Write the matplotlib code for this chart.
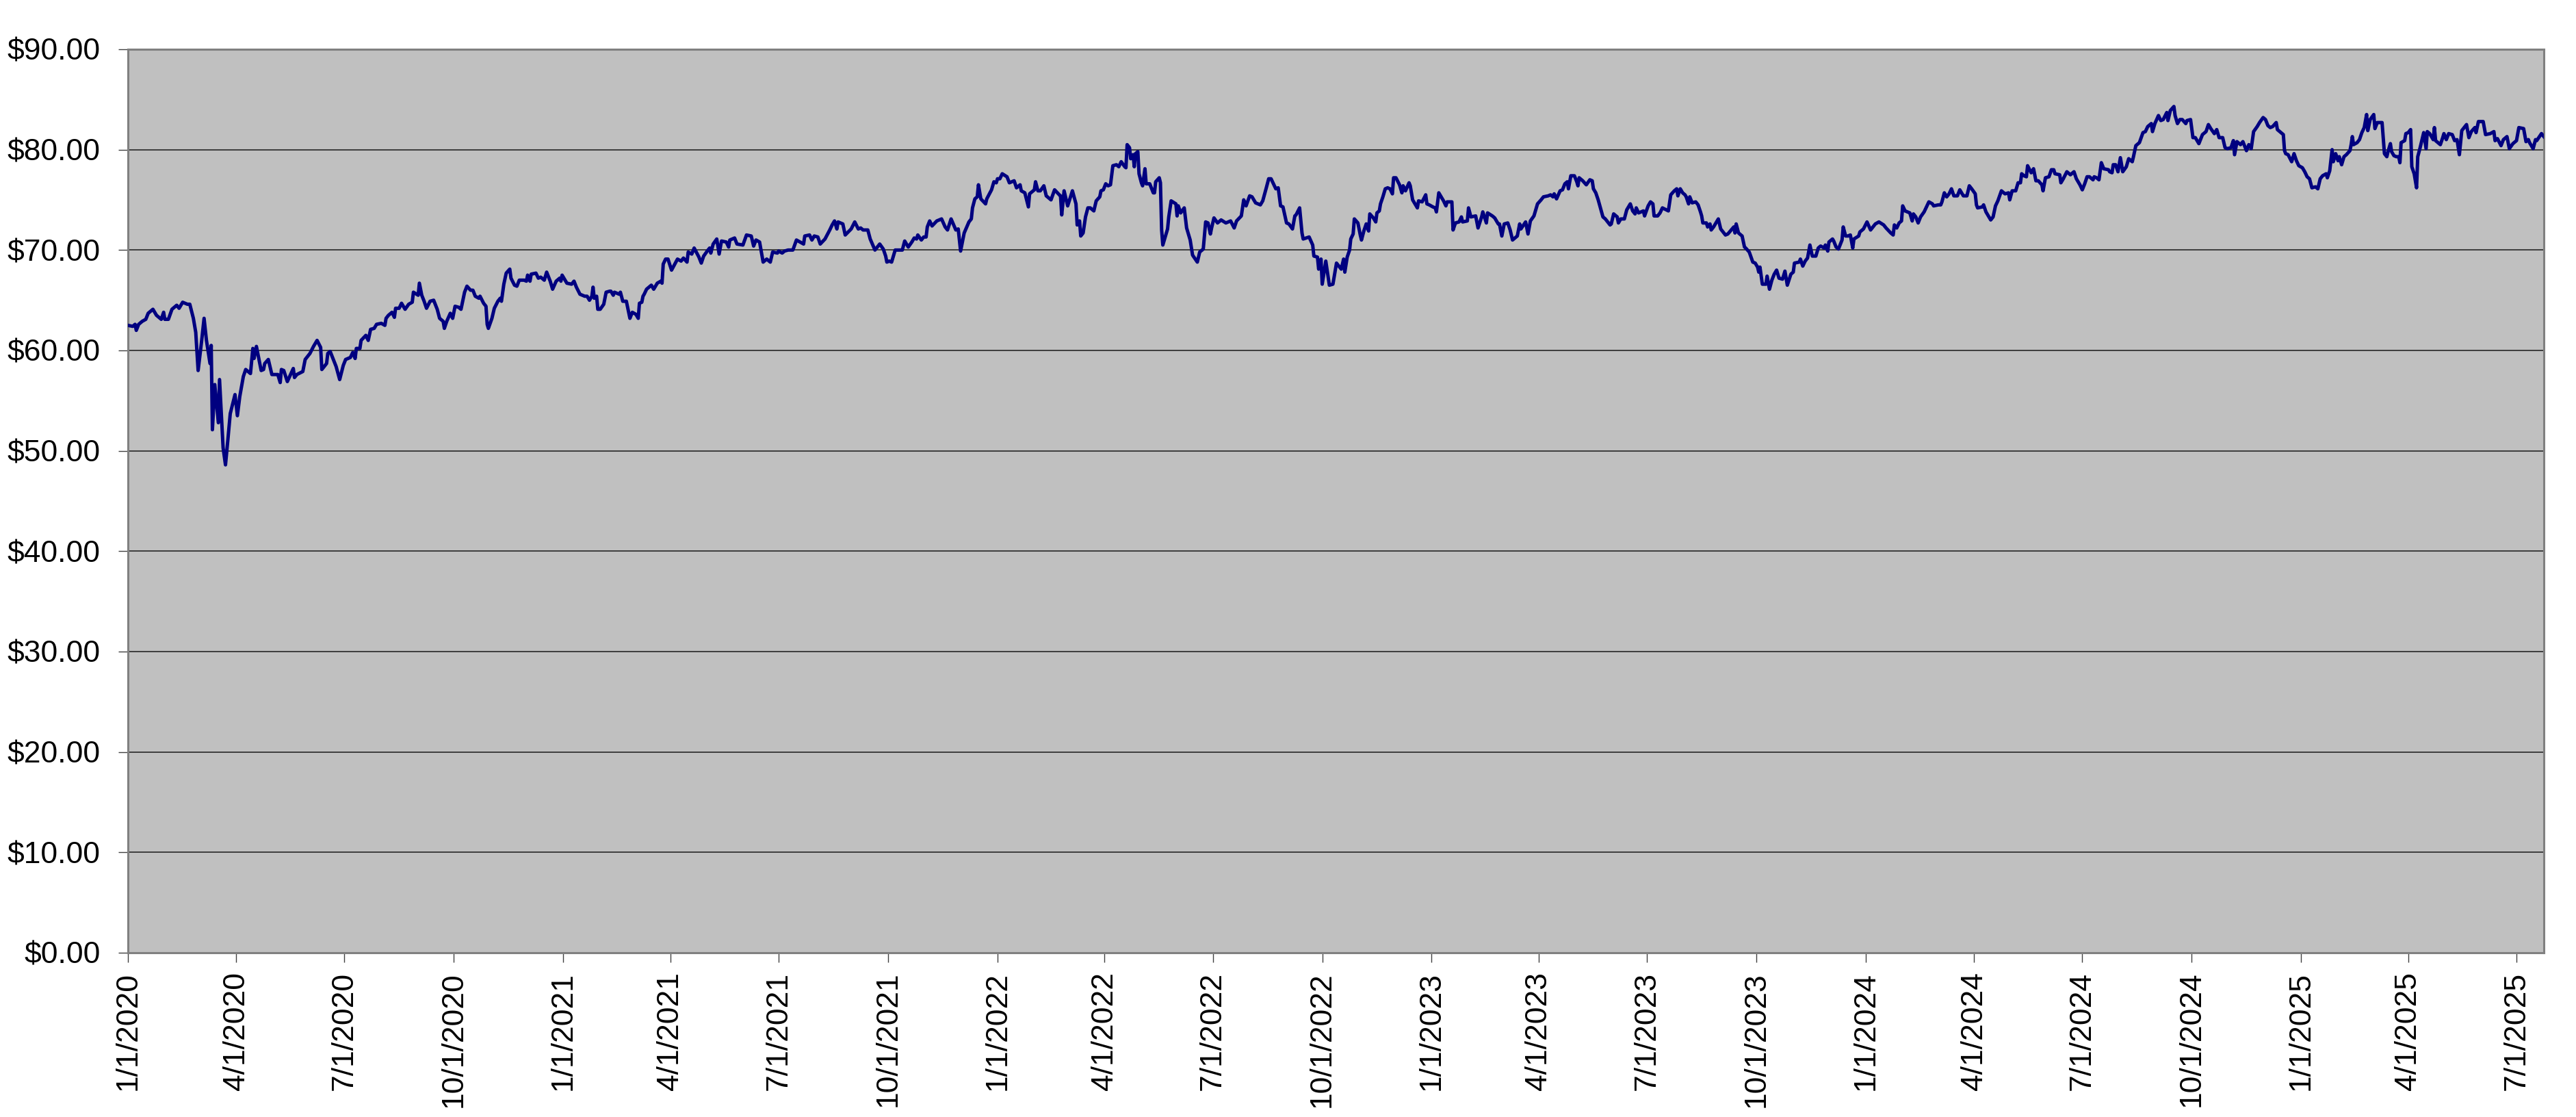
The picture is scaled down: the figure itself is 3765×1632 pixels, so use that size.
import matplotlib
matplotlib.use("Agg")
import matplotlib.pyplot as plt
import pandas as pd

# closing prices, (month-day, price) per year
y2020 = [
    ("01-01", 62.5), ("01-05", 62.4), ("01-07", 62.6), ("01-08", 62.0), ("01-10", 62.6), ("01-13", 62.9),
    ("01-16", 63.1), ("01-18", 63.7), ("01-22", 64.1), ("01-25", 63.5), ("01-29", 63.1), ("01-31", 63.8),
    ("02-01", 63.1), ("02-04", 63.1), ("02-07", 64.1), ("02-11", 64.5), ("02-13", 64.2), ("02-16", 64.8),
    ("02-20", 64.6), ("02-22", 64.6), ("02-25", 63.2), ("02-27", 61.8), ("02-29", 58.0), ("03-03", 61.0),
    ("03-05", 63.2), ("03-07", 61.0), ("03-10", 58.7), ("03-11", 60.5), ("03-12", 52.1), ("03-14", 56.6),
    ("03-17", 52.8), ("03-18", 57.1), ("03-21", 50.3), ("03-23", 48.6), ("03-25", 51.1), ("03-27", 53.7),
    ("03-31", 55.6), ("04-02", 53.5), ("04-04", 55.4), ("04-07", 57.4), ("04-09", 58.1), ("04-13", 57.7),
    ("04-15", 60.2), ("04-16", 59.2), ("04-18", 60.4), ("04-22", 58.0), ("04-24", 58.1), ("04-25", 58.7),
    ("04-28", 59.1), ("05-01", 57.6), ("05-06", 57.6), ("05-08", 56.8), ("05-09", 58.1), ("05-11", 58.0),
    ("05-14", 56.9), ("05-19", 58.2), ("05-20", 57.3), ("05-22", 57.6), ("05-27", 57.9), ("05-29", 59.1),
    ("06-02", 59.7), ("06-05", 60.4), ("06-08", 61.0), ("06-11", 60.3), ("06-12", 58.1), ("06-16", 58.7),
    ("06-17", 59.7), ("06-19", 59.9), ("06-22", 59.0), ("06-24", 58.4), ("06-27", 57.1), ("06-30", 58.5),
    ("07-02", 59.1), ("07-06", 59.3), ("07-08", 59.8), ("07-10", 59.2), ("07-11", 60.2), ("07-14", 60.2),
    ("07-15", 61.0), ("07-19", 61.5), ("07-21", 61.0), ("07-23", 62.1), ("07-26", 62.2), ("07-28", 62.6),
    ("08-01", 62.7), ("08-04", 62.5), ("08-05", 63.2), ("08-07", 63.5), ("08-10", 63.8), ("08-12", 63.3),
    ("08-13", 64.2), ("08-16", 64.2), ("08-18", 64.7), ("08-21", 64.1), ("08-24", 64.6), ("08-27", 64.8),
    ("08-28", 65.8), ("09-01", 65.5), ("09-02", 66.7), ("09-04", 65.5), ("09-06", 64.9), ("09-08", 64.2),
    ("09-11", 64.9), ("09-14", 65.0), ("09-17", 64.1), ("09-19", 63.2), ("09-22", 62.9), ("09-23", 62.2),
    ("09-25", 62.9), ("09-28", 63.7), ("09-30", 63.2), ("10-02", 64.4), ("10-05", 64.3), ("10-07", 64.1),
    ("10-10", 65.8), ("10-12", 66.4), ("10-15", 66.0), ("10-17", 66.0), ("10-19", 65.4), ("10-22", 65.2),
    ("10-23", 65.4), ("10-26", 64.7), ("10-28", 64.4), ("10-29", 62.6), ("10-30", 62.2), ("11-02", 63.2),
    ("11-04", 64.2), ("11-07", 64.9), ("11-09", 65.2), ("11-10", 64.9), ("11-12", 66.6), ("11-14", 67.7),
    ("11-17", 68.1), ("11-18", 67.2), ("11-21", 66.5), ("11-23", 66.4), ("11-25", 67.0), ("11-29", 67.0),
    ("12-01", 66.9), ("12-02", 67.5), ("12-04", 66.9), ("12-05", 67.6), ("12-09", 67.7), ("12-11", 67.2),
    ("12-13", 67.3), ("12-16", 67.0), ("12-18", 67.8), ("12-21", 66.9), ("12-23", 66.1), ("12-26", 66.9),
    ("12-29", 67.2), ("12-30", 66.9), ("12-31", 67.5),
]
y2021 = [
    ("01-04", 66.7), ("01-08", 66.6), ("01-10", 66.9), ("01-12", 66.3), ("01-15", 65.6), ("01-19", 65.4),
    ("01-21", 65.4), ("01-23", 65.0), ("01-25", 65.4), ("01-26", 66.3), ("01-27", 65.2), ("01-29", 65.4),
    ("01-30", 64.1), ("02-01", 64.1), ("02-04", 64.6), ("02-06", 65.8), ("02-09", 65.9), ("02-10", 65.9),
    ("02-12", 65.5), ("02-13", 65.8), ("02-17", 65.6), ("02-18", 65.8), ("02-20", 64.9), ("02-23", 64.9),
    ("02-26", 63.2), ("02-28", 63.8), ("03-03", 63.6), ("03-05", 63.2), ("03-06", 64.7), ("03-08", 64.8),
    ("03-09", 65.4), ("03-10", 65.6), ("03-12", 66.1), ("03-16", 66.5), ("03-18", 66.1), ("03-21", 66.7),
    ("03-24", 66.9), ("03-25", 66.7), ("03-26", 68.6), ("03-28", 69.1), ("03-30", 69.1), ("04-02", 68.0),
    ("04-07", 69.1), ("04-10", 68.9), ("04-12", 69.2), ("04-15", 68.8), ("04-16", 69.8), ("04-19", 69.6),
    ("04-21", 70.2), ("04-25", 69.3), ("04-27", 68.7), ("04-29", 69.4), ("05-02", 69.9), ("05-04", 70.2),
    ("05-05", 69.7), ("05-07", 70.6), ("05-10", 71.1), ("05-12", 69.6), ("05-14", 70.9), ("05-18", 70.8),
    ("05-20", 70.3), ("05-21", 71.0), ("05-25", 71.2), ("05-27", 70.6), ("06-01", 70.5), ("06-04", 71.5),
    ("06-08", 71.4), ("06-10", 70.4), ("06-12", 71.0), ("06-15", 70.8), ("06-18", 68.8), ("06-21", 69.1),
    ("06-24", 68.8), ("06-26", 69.8), ("06-30", 69.7), ("07-01", 69.9), ("07-04", 69.7), ("07-06", 69.9),
    ("07-09", 70.0), ("07-13", 70.0), ("07-16", 71.0), ("07-22", 70.6), ("07-23", 71.4), ("07-27", 71.5),
    ("07-29", 71.0), ("07-31", 71.4), ("08-03", 71.3), ("08-05", 70.6), ("08-09", 71.1), ("08-13", 72.0),
    ("08-15", 72.5), ("08-17", 72.9), ("08-19", 72.1), ("08-20", 72.8), ("08-24", 72.6), ("08-26", 71.5),
    ("08-31", 72.1), ("09-03", 72.8), ("09-06", 72.1), ("09-08", 72.2), ("09-10", 72.0), ("09-14", 72.0),
    ("09-16", 71.1), ("09-20", 70.0), ("09-24", 70.6), ("09-27", 70.1), ("09-29", 69.4), ("09-30", 68.8),
    ("10-02", 68.9), ("10-04", 68.8), ("10-07", 70.0), ("10-13", 70.0), ("10-15", 70.9), ("10-18", 70.3),
    ("10-21", 70.8), ("10-23", 71.2), ("10-25", 71.1), ("10-26", 71.5), ("10-29", 71.0), ("10-31", 71.3),
    ("11-02", 71.3), ("11-03", 72.3), ("11-05", 72.9), ("11-07", 72.4), ("11-11", 72.9), ("11-15", 73.1),
    ("11-18", 72.3), ("11-20", 72.0), ("11-23", 73.1), ("11-27", 72.0), ("11-29", 72.1), ("12-01", 69.9),
    ("12-04", 71.7), ("12-08", 72.8), ("12-10", 73.1), ("12-11", 74.2), ("12-13", 75.1), ("12-15", 75.3),
    ("12-16", 76.5), ("12-18", 75.1), ("12-22", 74.6), ("12-23", 75.1), ("12-27", 76.0), ("12-29", 76.8),
    ("12-31", 76.7),
]
y2022 = [
    ("01-01", 77.1), ("01-03", 77.1), ("01-05", 77.6), ("01-09", 77.3), ("01-11", 76.7), ("01-15", 76.9),
    ("01-17", 76.2), ("01-20", 76.5), ("01-21", 75.9), ("01-24", 75.7), ("01-27", 74.3), ("01-28", 75.6),
    ("02-01", 76.0), ("02-02", 76.8), ("02-04", 75.9), ("02-06", 75.9), ("02-09", 76.4), ("02-11", 75.4),
    ("02-15", 75.0), ("02-18", 76.0), ("02-22", 75.5), ("02-23", 75.4), ("02-24", 73.5), ("02-26", 75.9),
    ("03-01", 74.4), ("03-05", 75.9), ("03-08", 74.6), ("03-09", 72.5), ("03-11", 72.9), ("03-12", 71.4),
    ("03-14", 71.7), ("03-16", 73.3), ("03-18", 74.2), ("03-20", 74.2), ("03-23", 73.9), ("03-25", 74.9),
    ("03-28", 75.3), ("03-29", 75.9), ("03-31", 76.0), ("04-02", 76.6), ("04-04", 76.4), ("04-06", 76.5),
    ("04-08", 78.4), ("04-11", 78.5), ("04-13", 78.3), ("04-15", 78.8), ("04-18", 78.3), ("04-19", 78.2),
    ("04-20", 80.5), ("04-22", 80.2), ("04-23", 79.1), ("04-25", 79.5), ("04-26", 78.3), ("04-27", 79.6),
    ("04-29", 79.8), ("04-30", 77.6), ("05-02", 76.7), ("05-03", 76.4), ("05-05", 78.1), ("05-06", 76.6),
    ("05-09", 76.6), ("05-12", 75.7), ("05-13", 75.7), ("05-14", 76.8), ("05-17", 77.2), ("05-18", 76.7),
    ("05-19", 72.0), ("05-20", 70.5), ("05-24", 72.1), ("05-25", 73.3), ("05-27", 74.9), ("05-31", 74.6),
    ("06-01", 73.4), ("06-02", 74.4), ("06-04", 73.7), ("06-07", 74.2), ("06-09", 72.2), ("06-12", 71.0),
    ("06-14", 69.5), ("06-18", 68.8), ("06-20", 69.8), ("06-23", 70.1), ("06-25", 72.8), ("06-27", 72.7),
    ("06-29", 71.6), ("06-30", 72.2), ("07-02", 73.2), ("07-05", 72.7), ("07-08", 73.0), ("07-12", 72.7),
    ("07-16", 72.9), ("07-19", 72.2), ("07-21", 72.9), ("07-25", 73.4), ("07-27", 75.0), ("07-29", 74.4),
    ("08-01", 75.4), ("08-03", 75.3), ("08-06", 74.7), ("08-10", 74.5), ("08-12", 74.9), ("08-15", 76.2),
    ("08-17", 77.1), ("08-19", 77.1), ("08-23", 76.1), ("08-25", 76.2), ("08-27", 74.4), ("08-29", 74.3),
    ("09-01", 72.7), ("09-03", 72.6), ("09-06", 72.1), ("09-08", 73.4), ("09-09", 73.5), ("09-12", 74.2),
    ("09-14", 71.7), ("09-15", 71.1), ("09-20", 71.3), ("09-23", 70.5), ("09-24", 69.4), ("09-27", 69.3),
    ("09-28", 68.1), ("09-30", 69.1), ("10-01", 66.6), ("10-04", 68.9), ("10-07", 66.5), ("10-10", 66.6),
    ("10-13", 68.7), ("10-17", 68.1), ("10-19", 69.1), ("10-20", 67.8), ("10-22", 69.3), ("10-24", 70.0),
    ("10-25", 71.1), ("10-27", 71.6), ("10-28", 73.1), ("10-31", 72.7), ("11-02", 71.5), ("11-03", 71.0),
    ("11-05", 71.9), ("11-07", 72.6), ("11-09", 71.9), ("11-10", 73.6), ("11-13", 73.2), ("11-15", 72.8),
    ("11-16", 73.7), ("11-18", 73.9), ("11-19", 74.6), ("11-21", 75.3), ("11-23", 76.1), ("11-25", 76.2),
    ("11-27", 76.1), ("11-29", 75.6), ("11-30", 77.2), ("12-02", 77.2), ("12-05", 76.5), ("12-07", 75.7),
    ("12-08", 76.4), ("12-10", 75.9), ("12-13", 76.7), ("12-14", 76.4), ("12-16", 75.0), ("12-19", 74.4),
    ("12-20", 74.2), ("12-21", 74.9), ("12-24", 74.8), ("12-27", 75.5), ("12-28", 74.6), ("12-30", 74.5),
]
y2023 = [
    ("01-02", 74.3), ("01-04", 74.2), ("01-05", 73.8), ("01-07", 75.7), ("01-09", 75.3), ("01-11", 74.9),
    ("01-13", 74.4), ("01-14", 74.8), ("01-18", 74.8), ("01-19", 72.0), ("01-21", 72.7), ("01-24", 72.8),
    ("01-26", 73.3), ("01-27", 72.8), ("01-31", 72.9), ("02-01", 74.2), ("02-03", 73.3), ("02-07", 73.4),
    ("02-09", 72.2), ("02-12", 73.3), ("02-13", 73.8), ("02-16", 72.7), ("02-17", 73.7), ("02-21", 73.4),
    ("02-23", 73.2), ("02-26", 72.6), ("02-27", 72.6), ("03-01", 71.4), ("03-03", 72.6), ("03-06", 72.7),
    ("03-08", 72.0), ("03-10", 71.0), ("03-14", 71.4), ("03-16", 72.6), ("03-17", 72.1), ("03-21", 72.8),
    ("03-23", 71.6), ("03-25", 72.9), ("03-28", 73.4), ("03-31", 74.6), ("04-03", 75.0), ("04-05", 75.3),
    ("04-09", 75.4), ("04-11", 75.5), ("04-13", 75.3), ("04-14", 75.6), ("04-16", 75.1), ("04-19", 75.9),
    ("04-21", 76.0), ("04-23", 76.6), ("04-25", 76.8), ("04-26", 76.1), ("04-28", 77.4), ("05-01", 77.4),
    ("05-03", 76.8), ("05-04", 76.4), ("05-05", 77.2), ("05-08", 76.9), ("05-11", 76.5), ("05-14", 77.0),
    ("05-16", 76.9), ("05-17", 76.1), ("05-19", 75.7), ("05-21", 75.0), ("05-25", 73.3), ("05-27", 73.1),
    ("05-31", 72.5), ("06-01", 72.6), ("06-03", 73.6), ("06-06", 73.3), ("06-07", 72.7), ("06-09", 73.1),
    ("06-12", 73.1), ("06-14", 74.0), ("06-17", 74.6), ("06-19", 73.9), ("06-21", 73.6), ("06-22", 74.2),
    ("06-24", 73.7), ("06-28", 73.9), ("06-29", 73.4), ("07-02", 74.4), ("07-04", 74.8), ("07-06", 74.6),
    ("07-07", 73.4), ("07-10", 73.4), ("07-12", 73.7), ("07-14", 74.2), ("07-19", 73.9), ("07-21", 75.5),
    ("07-24", 75.9), ("07-26", 76.1), ("07-27", 75.4), ("07-29", 76.1), ("07-31", 75.7), ("08-02", 75.5),
    ("08-03", 75.3), ("08-05", 74.6), ("08-06", 75.3), ("08-08", 74.7), ("08-11", 74.8), ("08-13", 74.5),
    ("08-15", 73.8), ("08-16", 73.4), ("08-17", 72.7), ("08-20", 72.7), ("08-21", 72.3), ("08-23", 72.6),
    ("08-24", 72.0), ("08-26", 72.3), ("08-30", 73.1), ("09-01", 72.1), ("09-05", 71.5), ("09-07", 71.6),
    ("09-12", 72.3), ("09-13", 71.7), ("09-14", 72.6), ("09-16", 71.7), ("09-19", 71.4), ("09-21", 70.3),
    ("09-22", 70.2), ("09-25", 69.8), ("09-28", 68.8), ("09-30", 68.7), ("10-02", 68.3), ("10-03", 67.8),
    ("10-04", 68.3), ("10-06", 66.6), ("10-09", 66.6), ("10-10", 67.4), ("10-12", 66.1), ("10-14", 67.0),
    ("10-16", 67.6), ("10-18", 68.0), ("10-20", 67.2), ("10-23", 67.1), ("10-25", 67.9), ("10-27", 66.5),
    ("10-30", 67.6), ("11-01", 67.8), ("11-02", 68.7), ("11-06", 68.8), ("11-07", 69.1), ("11-09", 68.4),
    ("11-11", 68.9), ("11-13", 69.2), ("11-15", 70.5), ("11-17", 69.4), ("11-20", 69.4), ("11-22", 70.2),
    ("11-24", 70.4), ("11-27", 70.2), ("11-28", 70.5), ("11-30", 69.9), ("12-01", 70.8), ("12-04", 71.1),
    ("12-05", 70.9), ("12-07", 70.3), ("12-09", 70.1), ("12-12", 71.0), ("12-13", 72.3), ("12-15", 71.4),
    ("12-17", 71.4), ("12-19", 71.5), ("12-21", 70.2), ("12-22", 71.1), ("12-26", 71.4), ("12-27", 71.8),
    ("12-30", 72.1),
]
y2024 = [
    ("01-02", 72.8), ("01-05", 72.0), ("01-09", 72.6), ("01-12", 72.8), ("01-16", 72.5), ("01-18", 72.2),
    ("01-22", 71.7), ("01-24", 71.5), ("01-25", 72.5), ("01-27", 72.2), ("01-29", 72.7), ("01-31", 72.9),
    ("02-01", 74.4), ("02-03", 73.9), ("02-05", 73.8), ("02-07", 73.7), ("02-09", 72.9), ("02-10", 73.6),
    ("02-12", 73.3), ("02-14", 72.7), ("02-16", 73.3), ("02-19", 73.8), ("02-21", 74.3), ("02-23", 74.8),
    ("02-26", 74.6), ("02-27", 74.4), ("03-02", 74.5), ("03-04", 74.5), ("03-05", 74.8), ("03-07", 75.7),
    ("03-09", 75.3), ("03-11", 75.6), ("03-13", 76.1), ("03-15", 75.4), ("03-18", 75.4), ("03-20", 76.0),
    ("03-23", 75.4), ("03-26", 75.4), ("03-28", 76.4), ("03-30", 76.1), ("04-02", 75.6), ("04-03", 74.5),
    ("04-04", 74.2), ("04-08", 74.3), ("04-09", 74.5), ("04-11", 73.8), ("04-13", 73.4), ("04-15", 73.0),
    ("04-17", 73.3), ("04-19", 74.4), ("04-21", 74.9), ("04-24", 75.9), ("04-27", 75.6), ("04-30", 75.7),
    ("05-01", 75.0), ("05-03", 75.9), ("05-06", 75.9), ("05-08", 76.7), ("05-10", 76.7), ("05-11", 77.6),
    ("05-13", 77.4), ("05-15", 77.3), ("05-16", 78.4), ("05-19", 77.7), ("05-21", 78.1), ("05-23", 76.9),
    ("05-25", 76.9), ("05-28", 76.5), ("05-29", 75.9), ("05-31", 77.2), ("06-03", 77.3), ("06-05", 78.0),
    ("06-07", 78.0), ("06-08", 77.6), ("06-12", 77.5), ("06-13", 76.7), ("06-15", 77.1), ("06-18", 77.8),
    ("06-21", 77.5), ("06-24", 77.8), ("06-26", 77.1), ("06-29", 76.5), ("07-01", 76.0), ("07-03", 76.6),
    ("07-05", 77.3), ("07-07", 77.3), ("07-10", 77.0), ("07-11", 77.3), ("07-13", 77.2), ("07-15", 77.0),
    ("07-17", 78.7), ("07-19", 78.1), ("07-23", 78.0), ("07-24", 77.8), ("07-26", 77.7), ("07-27", 78.5),
    ("07-29", 78.5), ("07-31", 77.8), ("08-02", 79.2), ("08-04", 77.8), ("08-07", 78.3), ("08-09", 79.1),
    ("08-12", 78.8), ("08-13", 79.3), ("08-15", 80.4), ("08-18", 80.7), ("08-21", 81.7), ("08-23", 81.8),
    ("08-25", 82.3), ("08-28", 82.6), ("08-29", 81.8), ("08-31", 82.6), ("09-03", 83.4), ("09-05", 82.9),
    ("09-07", 83.0), ("09-10", 83.7), ("09-11", 82.9), ("09-13", 83.9), ("09-16", 84.3), ("09-17", 83.4),
    ("09-19", 82.6), ("09-21", 83.0), ("09-23", 83.0), ("09-26", 82.6), ("09-27", 82.9), ("09-30", 83.0),
    ("10-02", 81.2), ("10-04", 81.2), ("10-07", 80.6), ("10-10", 81.5), ("10-13", 81.8), ("10-15", 82.5),
    ("10-17", 82.1), ("10-20", 81.6), ("10-22", 82.0), ("10-24", 81.2), ("10-27", 81.2), ("10-29", 80.2),
    ("10-31", 80.1), ("11-03", 80.2), ("11-05", 80.9), ("11-06", 79.5), ("11-08", 80.8), ("11-11", 80.5),
    ("11-13", 80.8), ("11-16", 79.9), ("11-18", 80.5), ("11-20", 80.1), ("11-22", 81.8), ("11-25", 82.3),
    ("11-27", 82.7), ("11-30", 83.2), ("12-02", 83.0), ("12-04", 82.4), ("12-06", 82.2), ("12-08", 82.3),
    ("12-11", 82.7), ("12-12", 82.0), ("12-14", 81.8), ("12-17", 81.5), ("12-18", 79.9), ("12-19", 79.6),
    ("12-21", 79.5), ("12-24", 78.8), ("12-26", 79.6), ("12-28", 78.9), ("12-30", 78.4),
]
y2025 = [
    ("01-02", 78.2), ("01-04", 77.8), ("01-06", 77.3), ("01-08", 77.1), ("01-10", 76.2), ("01-13", 76.3),
    ("01-15", 76.1), ("01-17", 77.1), ("01-19", 77.4), ("01-22", 77.6), ("01-23", 77.2), ("01-25", 77.9),
    ("01-27", 80.0), ("01-28", 78.8), ("01-30", 79.6), ("02-01", 78.9), ("02-02", 79.3), ("02-04", 78.5),
    ("02-06", 79.3), ("02-08", 79.5), ("02-11", 79.9), ("02-12", 80.5), ("02-13", 81.3), ("02-14", 80.5),
    ("02-17", 80.7), ("02-19", 81.0), ("02-21", 81.7), ("02-23", 82.2), ("02-25", 83.5), ("02-26", 81.9),
    ("02-28", 83.0), ("03-03", 83.5), ("03-04", 82.1), ("03-06", 82.7), ("03-10", 82.7), ("03-12", 79.6),
    ("03-14", 79.3), ("03-15", 79.8), ("03-17", 80.6), ("03-18", 79.8), ("03-20", 79.4), ("03-22", 79.3),
    ("03-24", 79.3), ("03-25", 78.7), ("03-26", 80.7), ("03-29", 80.9), ("03-30", 81.6), ("04-01", 81.7),
    ("04-03", 82.0), ("04-04", 78.3), ("04-06", 77.6), ("04-08", 76.2), ("04-09", 79.3), ("04-11", 80.2),
    ("04-14", 81.7), ("04-16", 80.1), ("04-17", 81.8), ("04-19", 81.6), ("04-22", 81.0), ("04-23", 82.2),
    ("04-24", 80.9), ("04-28", 80.5), ("04-30", 81.2), ("05-01", 81.6), ("05-03", 81.0), ("05-05", 81.6),
    ("05-08", 81.5), ("05-10", 80.9), ("05-12", 81.0), ("05-14", 79.5), ("05-16", 81.9), ("05-20", 82.5),
    ("05-22", 81.2), ("05-24", 81.8), ("05-27", 82.2), ("05-28", 81.7), ("05-30", 82.8), ("06-03", 82.8),
    ("06-05", 81.5), ("06-09", 81.6), ("06-12", 81.8), ("06-13", 80.9), ("06-15", 81.1), ("06-18", 80.4),
    ("06-20", 81.0), ("06-23", 81.3), ("06-25", 80.1), ("06-28", 80.6), ("07-01", 80.9), ("07-03", 82.2),
    ("07-07", 82.1), ("07-09", 80.8), ("07-11", 81.0), ("07-12", 80.7), ("07-15", 80.1), ("07-17", 81.0),
    ("07-18", 80.9), ("07-22", 81.6), ("07-24", 81.3),
]

years = {2020: y2020, 2021: y2021, 2022: y2022, 2023: y2023, 2024: y2024, 2025: y2025}
dates = []
prices = []
for yr, rows in years.items():
    for md, p in rows:
        dates.append(pd.Timestamp(f"{yr}-{md}"))
        prices.append(p)

tick_dates = pd.date_range("2020-01-01", "2025-07-01", freq="QS")
tick_labels = [f"{d.month}/{d.day}/{d.year}" for d in tick_dates]
y_ticks = list(range(0, 100, 10))
y_labels = [f"${v:.2f}" for v in y_ticks]

plt.rcParams["font.family"] = ["Liberation Sans", "DejaVu Sans"]

W, H = 3766, 1632
fig = plt.figure(figsize=(W / 100, H / 100), dpi=100)
ax = fig.add_axes([187 / W, (H - 1392) / H, (3718 - 187) / W, (1392 - 72) / H])
ax.set_facecolor("#C0C0C0")

ax.plot(dates, prices, color="#000080", linewidth=3.6, solid_joinstyle="round", zorder=3)

ax.set_xlim(pd.Timestamp("2020-01-01"), dates[-1])
ax.set_ylim(0, 90)

ax.set_yticks(y_ticks)
ax.set_yticklabels(y_labels)
ax.set_xticks(tick_dates)
ax.set_xticklabels(tick_labels, rotation=90)

ax.yaxis.grid(True, color="#1a1a1a", linewidth=1.1)
ax.xaxis.grid(False)
ax.set_axisbelow(True)

ax.tick_params(axis="y", direction="out", length=10, width=1, color="#404040",
               labelsize=32, pad=19)
ax.tick_params(axis="x", direction="out", length=10, width=1, color="#404040",
               labelsize=32, pad=10)

for side in ["left", "right", "top", "bottom"]:
    ax.spines[side].set_color("#808080")
    ax.spines[side].set_linewidth(2.2)

fig.savefig("out.png", dpi=100)
